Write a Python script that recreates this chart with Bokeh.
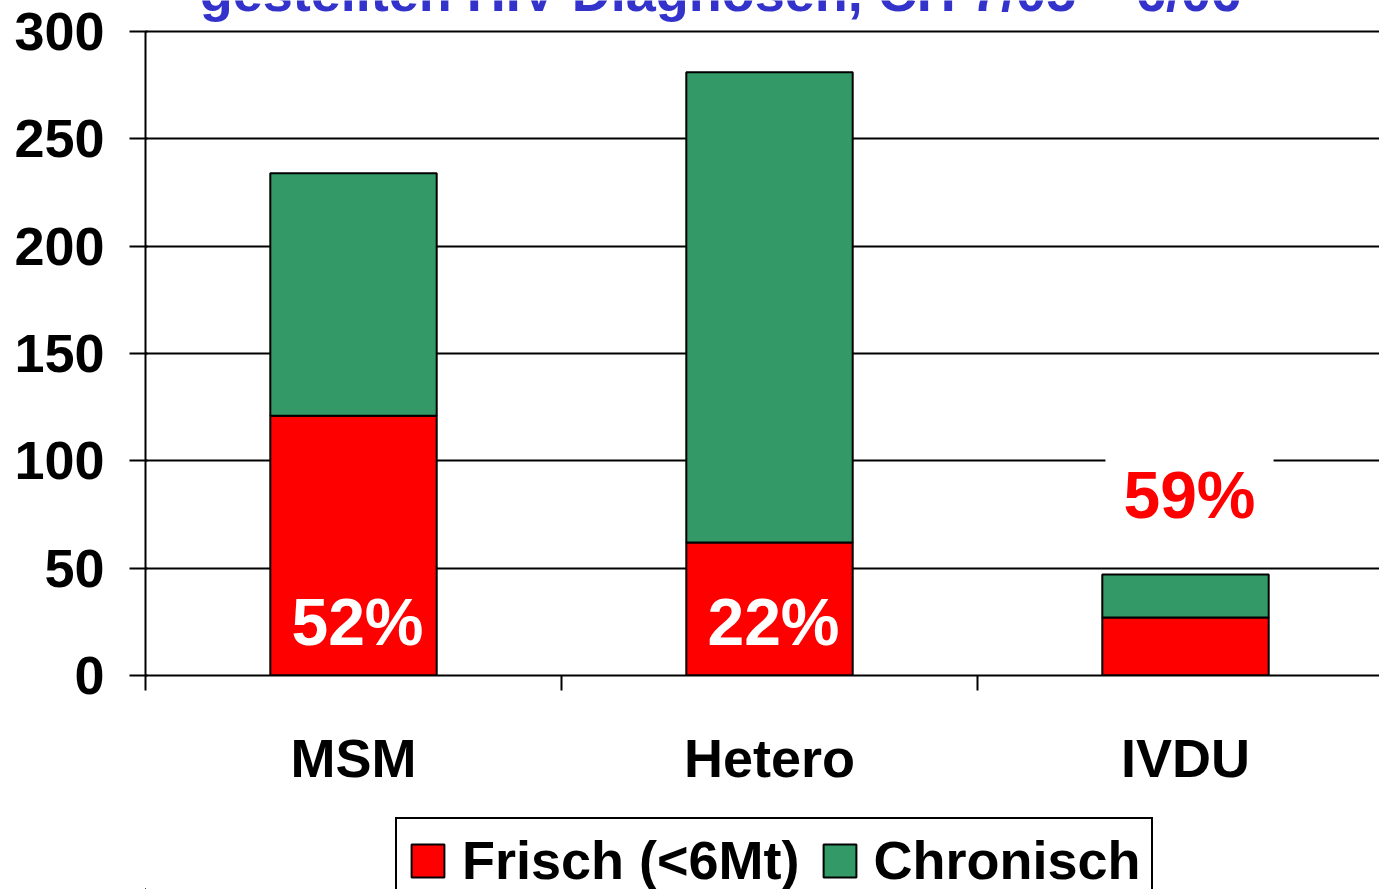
from bokeh.plotting import figure
from bokeh.layouts import column
from bokeh.models import (Range1d, FixedTicker, Label, Legend, LegendItem,
                          ColumnDataSource)
from bokeh.embed import file_html
from bokeh.resources import INLINE

# ---- data ----
categories = ["MSM", "Hetero", "IVDU"]
frisch = [121, 62, 27]
chronisch = [113, 219, 20]
pct_labels = ["52%", "22%", "59%"]
series_names = ["Frisch (<6Mt)", "Chronisch"]
y_ticks = [0, 50, 100, 150, 200, 250, 300]
title_text = "gestellten HIV-Diagnosen, CH 7/05 \u2013 6/06"

FONT = "Liberation Sans"
FS = "54px"
RED = "#FF0000"
GREEN = "#339966"
BLUE = "#3333CC"
COLORS = [RED, GREEN]

n = len(categories)
xs = [i + 0.5 for i in range(n)]
src = ColumnDataSource(dict(x=xs, cat=categories, frisch=frisch, chronisch=chronisch))

PX = 644 / 300  # pixels per unit on y
TOP_H = 816
p = figure(width=1379, height=TOP_H, output_backend="svg", toolbar_location=None,
           x_range=Range1d(0, 1234 / 416), y_range=Range1d(0, 300 + 31 / PX),
           min_border_left=145, min_border_right=0, min_border_top=0,
           min_border_bottom=TOP_H - 675)
p.outline_line_color = None
p.background_fill_color = "white"
p.border_fill_color = "white"

renderers = p.vbar_stack(["frisch", "chronisch"], x="x", width=0.4, source=src,
                         fill_color=COLORS, line_color="black", line_width=2)

# y axis
p.yaxis.ticker = FixedTicker(ticks=y_ticks)
p.yaxis.bounds = (0, 300)
p.yaxis.axis_line_color = "black"
p.yaxis.axis_line_width = 2
p.yaxis.major_tick_out = 16
p.yaxis.major_tick_in = 2
p.yaxis.major_tick_line_width = 2
p.yaxis.minor_tick_line_color = None
p.yaxis.major_label_text_font = FONT
p.yaxis.major_label_text_font_style = "bold"
p.yaxis.major_label_text_font_size = FS
p.yaxis.major_label_text_color = "black"
p.yaxis.major_label_standoff = 25

# x axis: labels at centres, ticks at category boundaries
p.xaxis.ticker = FixedTicker(ticks=xs, minor_ticks=[float(i) for i in range(n + 1)])
p.xaxis.major_label_overrides = {x: c for x, c in zip(xs, categories)}
p.xaxis.axis_line_color = "black"
p.xaxis.axis_line_width = 2
p.xaxis.major_tick_line_color = None
p.xaxis.major_tick_out = 15
p.xaxis.major_tick_in = 0
p.xaxis.minor_tick_out = 15
p.xaxis.minor_tick_in = 0
p.xaxis.minor_tick_line_color = "black"
p.xaxis.minor_tick_line_width = 2
p.xaxis.major_label_text_font = FONT
p.xaxis.major_label_text_font_style = "bold"
p.xaxis.major_label_text_font_size = FS
p.xaxis.major_label_text_color = "black"
p.xaxis.major_label_standoff = 37

# grid
p.xgrid.grid_line_color = None
p.ygrid.ticker = FixedTicker(ticks=y_ticks)
p.ygrid.grid_line_color = "black"
p.ygrid.grid_line_width = 1.8

# percentage labels
lab_y = [24.7, 24.7, 86.7]
lab_color = ["white", "white", RED]
for i, t in enumerate(pct_labels):
    kw = {}
    if i == 2:
        kw = dict(background_fill_color="white",
                  padding=dict(left=18, right=18, top=14, bottom=2))
    p.add_layout(Label(x=xs[i], y=lab_y[i], text=t, text_align="center",
                       text_baseline="alphabetic", x_offset=4,
                       text_font=FONT, text_font_style="bold",
                       text_font_size="66px", text_color=lab_color[i], **kw))

# title (cut off at top, as in the reference)
p.add_layout(Label(x=1.382, y=300 + 39.5 / PX, text=title_text, text_align="center",
                   text_baseline="alphabetic", text_font=FONT,
                   text_font_style="bold", text_font_size=FS,
                   text_color=BLUE))

# ---- legend strip below the chart (its key bars lie outside its ranges) ----
p2 = figure(width=1379, height=889 - TOP_H, output_backend="svg", toolbar_location=None,
            x_range=Range1d(10, 11), y_range=Range1d(1000, 1001),
            min_border=0, x_axis_location=None, y_axis_location=None)
p2.outline_line_color = None
p2.xgrid.visible = False
p2.ygrid.visible = False
p2.background_fill_color = "white"
p2.border_fill_color = "white"
keys = p2.vbar_stack(["frisch", "chronisch"], x="x", width=0.4, source=src,
                     fill_color=COLORS, line_color="black", line_width=2)
legend = Legend(items=[LegendItem(label=series_names[i], renderers=[keys[i]])
                       for i in range(2)],
                orientation="horizontal", location=(250, -14),
                label_text_font=FONT, label_text_font_style="bold",
                label_text_font_size=FS, label_text_color="black",
                glyph_width=41, glyph_height=41, label_standoff=14,
                spacing=19, padding=10, margin=0,
                border_line_color="black", border_line_width=2, border_line_alpha=1,
                background_fill_color="white", background_fill_alpha=1)
p2.add_layout(legend, "center")

layout = column(p, p2, spacing=0)
open("out.html", "w").write(file_html(layout, INLINE))
